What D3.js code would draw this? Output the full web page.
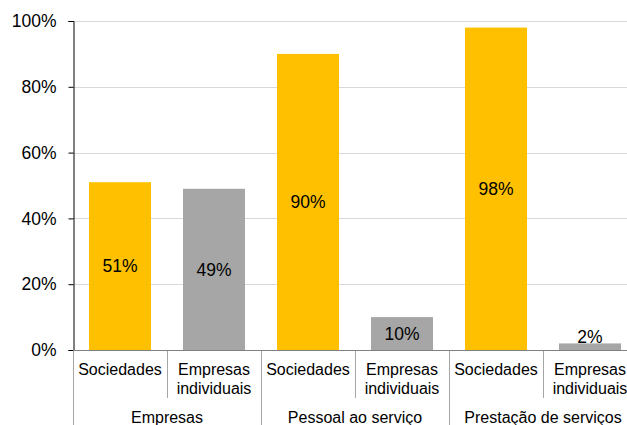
<!DOCTYPE html>
<html><head><meta charset="utf-8">
<script src="https://cdn.jsdelivr.net/npm/d3@7"></script>
<style>body{margin:0;background:#fff;}svg{display:block;font-family:"Liberation Sans",Arial,sans-serif;}</style>
</head><body>
<svg id="c" width="627" height="425"></svg>
<script>
const groups = ["Empresas", "Pessoal ao serviço", "Prestação de serviços"];
const subcats = ["Sociedades", "Empresas individuais"];
const values = [51, 49, 90, 10, 98, 2];
const yTicks = [0, 20, 40, 60, 80, 100];
const colors = ["#FFC000", "#A6A6A6"];

(function(){
const svg = d3.select("#c");
const mLeft = 73, mTop = 21, mBottom = 350, bandW = 94;
const keys = values.map((v, i) => i);
const x = d3.scaleBand().domain(keys).range([mLeft, mLeft + bandW * keys.length]).paddingInner(32/94).paddingOuter(16/94);
const y = d3.scaleLinear().domain([0, 100]).range([mBottom, mTop]);

// gridlines
svg.append("g").selectAll("line").data(yTicks.filter(t => t > 0)).join("line")
  .attr("x1", mLeft).attr("x2", 627).attr("y1", d => Math.round(y(d)) + 0.5).attr("y2", d => Math.round(y(d)) + 0.5)
  .attr("stroke", "#d9d9d9").attr("stroke-width", 1);

// bars
svg.append("g").selectAll("rect").data(values).join("rect")
  .attr("x", (d, i) => x(i)).attr("width", x.bandwidth())
  .attr("y", d => y(d)).attr("height", d => mBottom - y(d))
  .attr("fill", (d, i) => colors[i % 2]);

// bar labels
svg.append("g").selectAll("text").data(values).join("text")
  .attr("x", (d, i) => x(i) + x.bandwidth() / 2)
  .attr("y", d => Math.min((y(d) + mBottom) / 2, mBottom - 13))
  .attr("dy", "0.35em").attr("text-anchor", "middle")
  .attr("font-size", 17.5).attr("fill", "#000")
  .text(d => d + "%");

// y axis
const yAxis = d3.axisLeft(y).tickValues(yTicks).tickSize(5).tickPadding(12).tickFormat(d => d + "%");
const ya = svg.append("g").attr("transform", `translate(${mLeft + 0.5},0)`).call(yAxis);
ya.select(".domain").attr("stroke", "#000");
ya.selectAll(".tick line").attr("stroke", "#000");
ya.selectAll(".tick text").attr("font-size", 17.5).attr("fill", "#000").attr("font-family", "Liberation Sans, Arial, sans-serif");

// x axis baseline
svg.append("line").attr("x1", mLeft).attr("x2", 627).attr("y1", mBottom + 0.5).attr("y2", mBottom + 0.5)
  .attr("stroke", "#808080");

// separators
const seps = d3.range(keys.length + 1);
svg.append("g").selectAll("line").data(seps).join("line")
  .attr("x1", i => mLeft + i * bandW + 0.5).attr("x2", i => mLeft + i * bandW + 0.5)
  .attr("y1", mBottom + 1).attr("y2", i => i % 2 === 0 ? 425 : 398)
  .attr("stroke", "#a6a6a6");

// sub category labels
const sub = svg.append("g").selectAll("text").data(keys).join("text")
  .attr("text-anchor", "middle").attr("font-size", 16).attr("fill", "#000");
sub.each(function(i) {
  const words = subcats[i % 2].split(" ");
  const t = d3.select(this);
  const cx = mLeft + i * bandW + bandW / 2;
  if (words.length === 1) {
    t.append("tspan").attr("x", cx).attr("y", 375).text(words[0]);
  } else {
    words.forEach((w, j) => t.append("tspan").attr("x", cx).attr("y", 375 + j * 19).text(w));
  }
});

// group labels
svg.append("g").selectAll("text").data(groups).join("text")
  .attr("x", (d, i) => mLeft + i * 2 * bandW + bandW)
  .attr("y", 423).attr("text-anchor", "middle").attr("font-size", 16).attr("fill", "#000")
  .text(d => d);
})();
</script>
</body></html>
